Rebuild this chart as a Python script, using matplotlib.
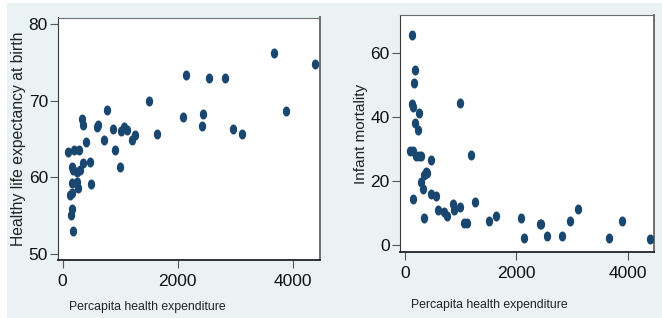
"""Two Stata-style scatter panels: health spending vs healthy life expectancy and vs infant mortality."""
import numpy as np
import matplotlib
matplotlib.use("Agg")
import matplotlib.pyplot as plt
from matplotlib.path import Path
from matplotlib.patches import Rectangle

# left panel: per capita health expenditure vs healthy life expectancy
spend_le = [98, 127, 144, 156, 156, 156, 162, 185, 184, 197, 243, 243, 272, 289, 301,
            341, 359, 355, 400, 475, 492, 591, 620, 718, 765, 880, 910, 997, 1009, 1066,
            1124, 1200, 1257, 1506, 1635, 2087, 2139, 2428, 2446, 2550, 2823, 2967, 3113,
            3675, 3883, 4388]
life_exp = [63.3, 57.7, 55.1, 61.4, 59.2, 57.9, 55.8, 53.0, 61.0, 63.6, 60.7, 59.4, 58.6, 63.6, 61.0,
            67.6, 66.8, 61.8, 64.6, 62.0, 59.1, 66.6, 66.8, 64.9, 68.8, 66.3, 63.5, 61.4, 66.0, 66.6,
            66.2, 64.9, 65.5, 69.9, 65.7, 67.9, 73.3, 66.7, 68.2, 73.0, 72.9, 66.3, 65.7,
            76.2, 68.7, 74.8]

# right panel: per capita health expenditure vs infant mortality
spend_im = [120, 180, 156, 126, 135, 257, 180, 228, 90, 138, 197, 257, 287, 467, 395,
            335, 287, 377, 329, 150, 347, 467, 557, 599, 707, 754, 868, 886, 994, 994,
            1054, 1114, 1185, 1257, 1515, 1634, 2083, 2131, 2431, 2449, 2550, 2814, 2969,
            3113, 3670, 3891, 4394]
infant_mort = [65.7, 54.8, 50.6, 44.1, 43.3, 41.4, 38.3, 36.0, 29.5, 29.5, 27.9, 27.9, 27.9, 26.6, 22.4,
               21.9, 19.8, 22.9, 17.5, 14.3, 8.4, 16.0, 15.3, 11.0, 10.4, 9.1, 12.8, 11.0, 44.6, 11.8,
               7.0, 7.0, 28.2, 13.4, 7.6, 9.1, 8.4, 2.1, 6.7, 6.7, 2.8, 2.9, 7.5,
               11.3, 2.1, 7.5, 1.8]

x_ticks = [0, 2000, 4000]
le_ticks = [50, 60, 70, 80]
im_ticks = [0, 20, 40, 60]

NAVY = "#1A476F"
BG = "#EAF2F3"

plt.rcParams["font.family"] = ["Liberation Sans", "DejaVu Sans"]

# source image is squeezed sideways, so the dots come out taller than wide
t = np.linspace(0, 2 * np.pi, 41)
dot = Path(np.column_stack([0.73 * np.cos(t), np.sin(t)]), closed=True)

fig = plt.figure(figsize=(6.62, 3.18), dpi=100)
fig.add_artist(Rectangle((7 / 662, 0), 1, 315 / 318, transform=fig.transFigure,
                         facecolor=BG, edgecolor="none", zorder=-10))


def panel(rect, x, y, xlim, ylim, yticks):
    ax = fig.add_axes(rect)
    ax.set_facecolor("white")
    ax.scatter(x, y, s=52, marker=dot, color=NAVY, linewidths=0, zorder=3)
    ax.set_xlim(xlim)
    ax.set_ylim(ylim)
    ax.set_xticks(x_ticks)
    ax.set_yticks(yticks)
    ax.spines["left"].set_color("#3a3a3a")
    ax.spines["bottom"].set_color("#222222")
    ax.spines["bottom"].set_linewidth(1.3)
    for s in ["top", "right"]:
        ax.spines[s].set_color("#6f6f6f")
    ax.spines["right"].set_linewidth(1.4)
    ax.tick_params(direction="out", length=6, width=0.8, color="#555555",
                   labelsize=12.5, labelcolor="#111111")
    ax.tick_params(axis="x", pad=4)
    ax.tick_params(axis="y", pad=1.5)
    return ax


panel([58.3 / 662, 58 / 318, 261.7 / 662, 242.5 / 318], spend_le, life_exp,
      (-76, 4475), (49.2, 80.85), le_ticks)
panel([400 / 662, 66.3 / 318, 254.3 / 662, 236.7 / 318], spend_im, infant_mort,
      (-90, 4480), (-2.1, 72), im_ticks)

fig.text(19 / 662, 1 - 139 / 318, "Healthy life expectancy at birth", rotation=90,
         ha="center", va="center", fontsize=11.3, color="#222222")
fig.text(361.5 / 662, 1 - 134 / 318, "Infant mortality", rotation=90,
         ha="center", va="center", fontsize=11, color="#222222")
fig.text(147.5 / 662, 1 - 307 / 318, "Percapita health expenditure",
         ha="center", va="center", fontsize=8.8, color="#222222")
fig.text(489 / 662, 1 - 305 / 318, "Percapita health expenditure",
         ha="center", va="center", fontsize=8.8, color="#222222")

fig.savefig("out.png", dpi=100)
